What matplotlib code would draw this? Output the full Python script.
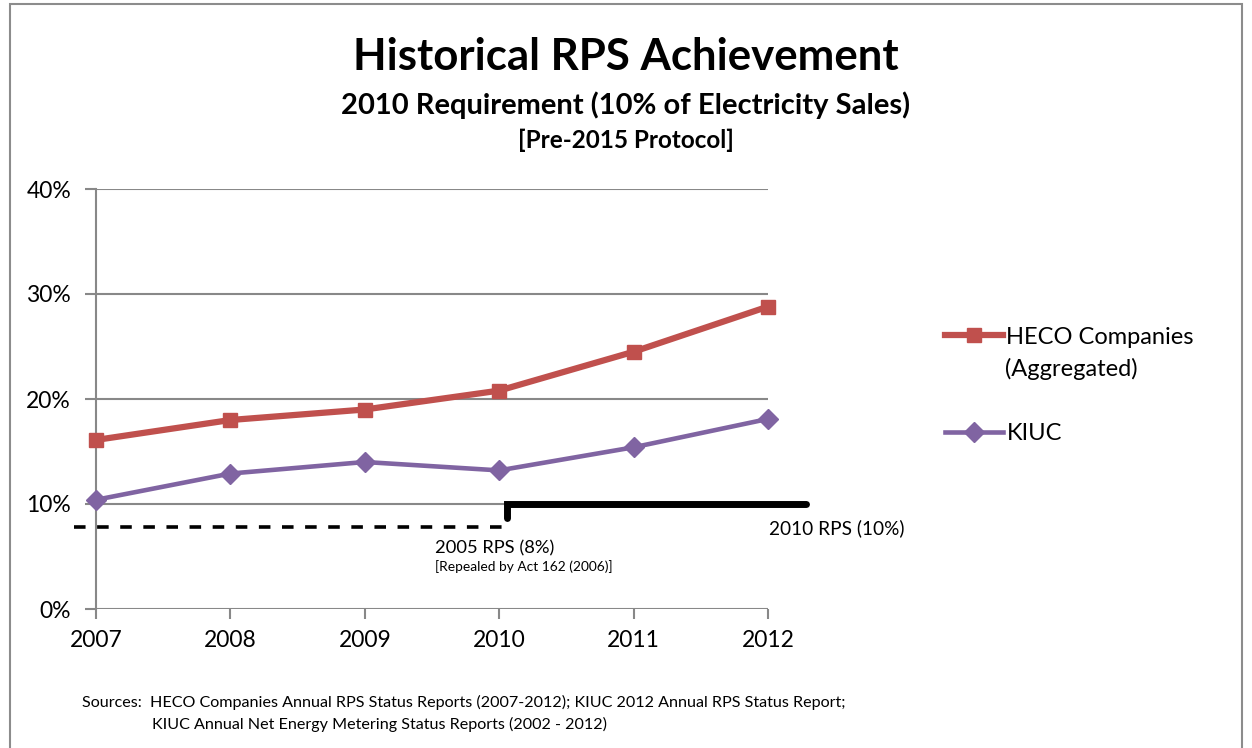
import matplotlib
matplotlib.use('Agg')
import matplotlib.pyplot as plt
from matplotlib.patches import Rectangle

plt.rcParams['font.family'] = ['Lato', 'DejaVu Sans']

# Dades llegides de la figura
years = [2007, 2008, 2009, 2010, 2011, 2012]
heco = [16.1, 18.0, 19.0, 20.8, 24.5, 28.8]
kiuc = [10.4, 12.9, 14.0, 13.2, 15.4, 18.1]
y_ticks = [0, 10, 20, 30, 40]
rps_2005 = 8
rps_2010 = 10

fig = plt.figure(figsize=(12.52, 7.48), dpi=100)
fig.patches.append(Rectangle((10 / 1252, -0.1), 1232 / 1252, 1.095, transform=fig.transFigure,
                             fill=False, edgecolor='#8c8c8c', linewidth=1.5))

ax = fig.add_axes([96 / 1252, 1 - 609 / 748, 672 / 1252, 420 / 748])
ax.set_xlim(2007, 2012)
ax.set_ylim(0, 40)

l_heco, = ax.plot(years, heco, color='#C0504D', linewidth=4.5, marker='s', markersize=10.5,
                  clip_on=False, zorder=5)
l_kiuc, = ax.plot(years, kiuc, color='#8064A2', linewidth=3.3, marker='D', markersize=10,
                  clip_on=False, zorder=5)

# Línies de requisit RPS
ax.plot([2006.84, 2010.03], [rps_2005 - 0.2, rps_2005 - 0.2], color='black', linestyle=(0, (3.2, 3.2)),
        linewidth=2.6, clip_on=False, zorder=4)
ax.plot([2010.06, 2010.06, 2012.28], [rps_2010 - 1.35, rps_2010, rps_2010], color='black',
        linewidth=5, solid_capstyle='round', solid_joinstyle='miter', clip_on=False, zorder=4)
ax.text(2012.01, rps_2010 - 2.3, '2010 RPS (10%)', fontsize=13.7, va='center', ha='left')
ax.text(2009.52, 5.8, '2005 RPS (8%)', fontsize=13.2, va='center', ha='left')
ax.text(2009.52, 4.0, '[Repealed by Act 162 (2006)]', fontsize=9.9, va='center', ha='left')

ax.set_yticks(y_ticks)
ax.set_yticklabels([f'{t}%' for t in y_ticks])
ax.set_xticks(years)
ax.grid(axis='y', color='#888888', linewidth=1.5)
ax.set_axisbelow(True)
for s in ['top', 'right', 'bottom']:
    ax.spines[s].set_visible(False)
ax.spines['left'].set_color('#888888')
ax.spines['left'].set_linewidth(1.5)
ax.tick_params(axis='y', length=8, width=1.5, color='#888888', labelsize=16.5, pad=10)
ax.tick_params(axis='x', length=7, width=1.5, color='#888888', labelsize=16.5, pad=8)

# Llegenda: una entrada per sèrie, col·locada a mà
leg1 = fig.legend([l_heco], ['HECO Companies'], loc='center left',
                  bbox_to_anchor=(945 / 1252, 1 - 337 / 748), frameon=False, fontsize=17,
                  handlelength=2.45, handletextpad=0.15, borderpad=0, borderaxespad=0)
leg2 = fig.legend([l_kiuc], ['KIUC'], loc='center left',
                  bbox_to_anchor=(945 / 1252, 1 - 434 / 748), frameon=False, fontsize=17,
                  handlelength=2.45, handletextpad=0.15, borderpad=0, borderaxespad=0)
fig.text(1005 / 1252, 1 - 369 / 748, '(Aggregated)', fontsize=17, va='center', ha='left')

fig.text(0.5, 1 - 57 / 748, 'Historical RPS Achievement', ha='center', va='center',
         fontsize=31.5, fontweight='bold')
fig.text(0.5, 1 - 105 / 748, '2010 Requirement (10% of Electricity Sales)', ha='center',
         va='center', fontsize=21, fontweight='bold')
fig.text(0.5, 1 - 140 / 748, '[Pre-2015 Protocol]', ha='center', va='center',
         fontsize=17.5, fontweight='bold')

fig.text(82 / 1252, 1 - 702 / 748, 'Sources:  HECO Companies Annual RPS Status Reports (2007-2012); '
         'KIUC 2012 Annual RPS Status Report;', fontsize=11.6, va='center')
fig.text(152 / 1252, 1 - 724 / 748, 'KIUC Annual Net Energy Metering Status Reports (2002 - 2012)',
         fontsize=11.6, va='center')

fig.savefig('out.png', dpi=100)
